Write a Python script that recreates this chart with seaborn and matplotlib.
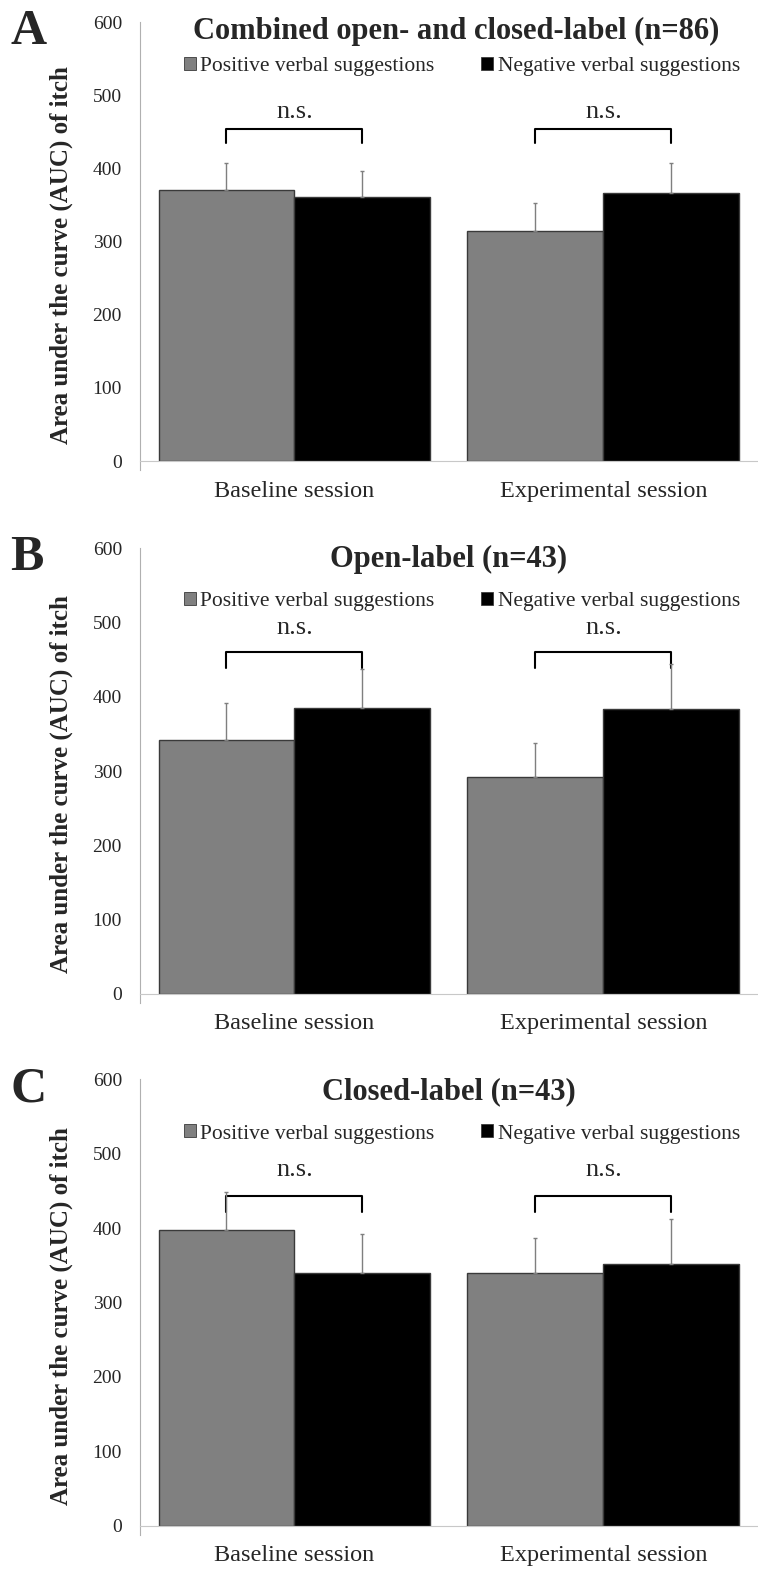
import pandas as pd
import matplotlib.pyplot as plt
import seaborn as sns
from matplotlib.patches import Patch

# =====================================================
# DATA
# =====================================================
sessions = ["Baseline session", "Experimental session"]
suggestions = ["Positive verbal suggestions", "Negative verbal suggestions"]

panel_letters = ["A", "B", "C"]
panel_titles = [
    "Combined open- and closed-label (n=86)",
    "Open-label (n=43)",
    "Closed-label (n=43)",
]

# means: [baseline pos, baseline neg, experimental pos, experimental neg]
means_A = [370, 361, 315, 367]
means_B = [342, 385, 292, 384]
means_C = [398, 340, 340, 352]

# upper error (SEM) for the same order
err_A = [38, 35, 38, 40]
err_B = [49, 52, 46, 60]
err_C = [50, 52, 46, 60]

ns_label = "n.s."

# =====================================================
# STYLE
# =====================================================
sns.set_style("white")
plt.rcParams["font.family"] = ["Liberation Serif", "DejaVu Serif"]

colors = ["#808080", "#000000"]

fig = plt.figure(figsize=(7.58, 15.96), dpi=100)

# axes positions (left, bottom, width, height) in figure fraction
axes_pos = [
    (0.1847, 0.7111, 0.815, 0.2751),
    (0.1847, 0.3772, 0.815, 0.2794),
    (0.1847, 0.0439, 0.815, 0.2800),
]

all_means = [means_A, means_B, means_C]
all_errs = [err_A, err_B, err_C]

# bracket heights per panel (data units)
bracket_top = [454, 460, 443]
bracket_low = [435, 439, 421]
ns_y = [477, 492, 478]
title_x = [0.512, 0.5, 0.5]
title_y = [0.978, 0.975, 0.972]
legend_y = [0.898, 0.881, 0.877]

for i in range(3):
    ax = fig.add_axes(axes_pos[i])

    df = pd.DataFrame({
        "Session": [sessions[0], sessions[0], sessions[1], sessions[1]],
        "Suggestion": [suggestions[0], suggestions[1], suggestions[0], suggestions[1]],
        "AUC": all_means[i],
        "Err": all_errs[i],
    })

    sns.barplot(
        data=df,
        x="Session",
        y="AUC",
        hue="Suggestion",
        hue_order=suggestions,
        order=sessions,
        palette=colors,
        width=0.88,
        gap=0,
        edgecolor="#3a3a3a",
        linewidth=1,
        errorbar=None,
        saturation=1,
        legend=False,
        ax=ax,
    )

    # error bars (upward only) on bar centres
    centres = {}
    bar_containers = list(ax.containers)
    for h, cont in enumerate(bar_containers):
        for s, bar in enumerate(cont.patches):
            cx = bar.get_x() + bar.get_width() / 2
            centres[(s, h)] = cx
            row = df[(df["Session"] == sessions[s]) & (df["Suggestion"] == suggestions[h])].iloc[0]
            ax.errorbar(
                cx, row["AUC"],
                yerr=[[0], [row["Err"]]],
                fmt="none",
                ecolor="#7f7f7f",
                elinewidth=1,
                capsize=1.5,
                capthick=1,
                zorder=3,
            )

    # significance brackets
    for s in range(2):
        x0 = centres[(s, 0)]
        x1 = centres[(s, 1)]
        ax.plot(
            [x0, x0, x1, x1],
            [bracket_low[i], bracket_top[i], bracket_top[i], bracket_low[i]],
            color="black",
            linewidth=1.5,
        )
        ax.text(
            (x0 + x1) / 2, ns_y[i], ns_label,
            ha="center", va="center", fontsize=19,
        )

    ax.set_xlim(-0.5, 1.5)
    ax.set_ylim(0, 600)
    ax.set_yticks(range(0, 601, 100))
    ax.tick_params(axis="y", labelsize=14, length=5, color="#a0a0a0", pad=8)
    ax.tick_params(axis="x", labelsize=17.5, length=0, pad=14)
    ax.set_xlabel("")
    ax.set_ylabel(
        "Area under the curve (AUC) of itch",
        fontsize=18, fontweight="bold",
    )
    ax.yaxis.set_label_coords(-0.108, 0.47)

    sns.despine(ax=ax, top=True, right=True)
    ax.spines["left"].set_color("#b0b0b0")
    ax.spines["bottom"].set_color("#c8c8c8")
    ax.spines["left"].set_bounds(-12, 600)
    ax.spines["left"].set_clip_on(False)

    # title and legend
    ax.text(
        title_x[i], title_y[i], panel_titles[i],
        transform=ax.transAxes, ha="center", va="center",
        fontsize=22, fontweight="bold",
    )
    handles = [Patch(facecolor=c, edgecolor="#3a3a3a", linewidth=0.6) for c in colors]
    ax.legend(
        handles, suggestions,
        ncol=2,
        frameon=False,
        loc="center right",
        bbox_to_anchor=(0.985, legend_y[i]),
        fontsize=15.5,
        handlelength=0.55,
        handleheight=0.55,
        handletextpad=0.2,
        columnspacing=2.2,
        borderaxespad=0,
    )

    # panel letter
    top = axes_pos[i][1] + axes_pos[i][3]
    fig.text(
        0.014, top - 22 / 1596, panel_letters[i],
        fontsize=36, fontweight="bold", ha="left", va="baseline",
    )

fig.savefig("out.png", dpi=100)
